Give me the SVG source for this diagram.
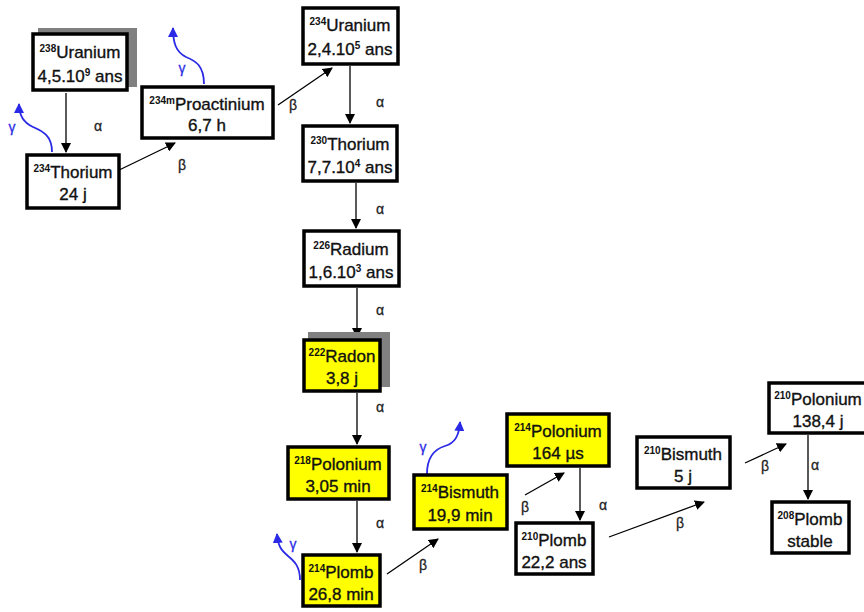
<svg xmlns="http://www.w3.org/2000/svg" width="864" height="612" viewBox="0 0 864 612">
<defs>
<marker id="ah" viewBox="0 0 10 10" refX="9" refY="5" markerWidth="10" markerHeight="10" markerUnits="userSpaceOnUse" orient="auto"><path d="M0,0 L10,5 L0,10 z" fill="#000"/></marker>
<marker id="ahb" viewBox="0 0 10 10" refX="9" refY="5" markerWidth="10" markerHeight="10" markerUnits="userSpaceOnUse" orient="auto"><path d="M0,0 L10,5 L0,10 z" fill="#2a2ae6"/></marker>
<style>
.box{fill:#fff;stroke:#000;stroke-width:3.5}
.y{fill:#ffff00}
.sh{fill:#808080}
.t{font-family:"Liberation Sans",Arial,sans-serif;font-size:17px;fill:#111;stroke:#111;stroke-width:0.35;text-anchor:middle}
.s{font-size:10px;font-weight:bold;stroke-width:0}
.c{stroke:#000;stroke-width:1.3;fill:none;marker-end:url(#ah)}
.g{stroke:#2a2ae6;stroke-width:1.8;fill:none;marker-end:url(#ahb)}
.l{font-family:"Liberation Sans",Arial,sans-serif;font-size:14px;fill:#222;stroke:#222;stroke-width:0.3;text-anchor:middle}
.lg{font-family:"Liberation Sans",Arial,sans-serif;font-size:14px;fill:#2a2ae6;stroke:#2a2ae6;stroke-width:0.3;text-anchor:middle}
</style>
</defs>
<rect width="864" height="612" fill="#fff"/>

<g id="connectors">
<line class="c" x1="66" y1="93" x2="66" y2="152"/>
<line class="c" x1="113" y1="173" x2="175" y2="143"/>
<line class="c" x1="278" y1="105" x2="332" y2="68"/>
<line class="c" x1="350" y1="66" x2="350" y2="123"/>
<line class="c" x1="356" y1="183" x2="356" y2="228"/>
<line class="c" x1="357" y1="288" x2="357" y2="337"/>
<line class="c" x1="357" y1="393" x2="357" y2="444"/>
<line class="c" x1="357" y1="501" x2="357" y2="552"/>
<line class="c" x1="387" y1="574" x2="438" y2="539"/>
<line class="c" x1="525" y1="495" x2="564" y2="473"/>
<line class="c" x1="580" y1="468" x2="580" y2="520"/>
<line class="c" x1="609" y1="537" x2="704" y2="502"/>
<line class="c" x1="745" y1="463" x2="786" y2="444"/>
<line class="c" x1="808" y1="435" x2="808" y2="499"/>
<path class="g" d="M52,152 C52,135 42,131 33,127 C22,122 19,114 19,104"/>
<path class="g" d="M204,84 C204,66 196,61 186,57 C176,52 173,43 173,28"/>
<path class="g" d="M300,580 C300,566 294,561 288,556 C281,550 278,546 277,534"/>
<path class="g" d="M427,474 C427,456 435,449 445,446 C455,443 459,436 460,422"/>
<text class="l" x="98" y="131">α</text>
<text class="l" x="182" y="170">β</text>
<text class="l" x="293" y="110">β</text>
<text class="l" x="380" y="107">α</text>
<text class="l" x="380" y="214">α</text>
<text class="l" x="380" y="315">α</text>
<text class="l" x="380" y="412">α</text>
<text class="l" x="380" y="528">α</text>
<text class="l" x="423" y="570">β</text>
<text class="l" x="525" y="512">β</text>
<text class="l" x="603" y="510">α</text>
<text class="l" x="680" y="528">β</text>
<text class="l" x="765" y="471">β</text>
<text class="l" x="815" y="470">α</text>
<text class="lg" x="12" y="132">γ</text>
<text class="lg" x="182" y="73">γ</text>
<text class="lg" x="293" y="549">γ</text>
<text class="lg" x="423" y="452">γ</text>
</g>

<g id="u238">
<rect class="sh" x="38" y="28" width="99" height="59"/>
<rect class="box" x="33" y="34" width="94" height="56"/>
<text class="t" x="80" y="58"><tspan class="s" dy="-6">238</tspan><tspan dy="6">Uranium</tspan></text>
<text class="t" x="80" y="82">4,5.10<tspan class="s" dy="-6">9</tspan><tspan dy="6"> ans</tspan></text>
</g>
<g id="th234">
<rect class="box" x="27" y="155" width="92" height="53"/>
<text class="t" x="73" y="178"><tspan class="s" dy="-6">234</tspan><tspan dy="6">Thorium</tspan></text>
<text class="t" x="73" y="200">24 j</text>
</g>
<g id="pa234m">
<rect class="box" x="142" y="87" width="131" height="51"/>
<text class="t" x="207" y="110"><tspan class="s" dy="-6">234m</tspan><tspan dy="6">Proactinium</tspan></text>
<text class="t" x="207" y="131">6,7 h</text>
</g>
<g id="u234">
<rect class="box" x="303" y="8" width="95" height="56"/>
<text class="t" x="350" y="31"><tspan class="s" dy="-6">234</tspan><tspan dy="6">Uranium</tspan></text>
<text class="t" x="350" y="55">2,4.10<tspan class="s" dy="-6">5</tspan><tspan dy="6"> ans</tspan></text>
</g>
<g id="th230">
<rect class="box" x="303" y="126" width="94" height="55"/>
<text class="t" x="350" y="150"><tspan class="s" dy="-6">230</tspan><tspan dy="6">Thorium</tspan></text>
<text class="t" x="350" y="173">7,7.10<tspan class="s" dy="-6">4</tspan><tspan dy="6"> ans</tspan></text>
</g>
<g id="ra226">
<rect class="box" x="304" y="231" width="95" height="55"/>
<text class="t" x="351" y="255"><tspan class="s" dy="-6">226</tspan><tspan dy="6">Radium</tspan></text>
<text class="t" x="351" y="278">1,6.10<tspan class="s" dy="-6">3</tspan><tspan dy="6"> ans</tspan></text>
</g>
<g id="rn222">
<rect class="sh" x="308" y="332" width="82" height="55"/>
<rect class="box y" x="304" y="340" width="76" height="51"/>
<text class="t" x="342" y="362"><tspan class="s" dy="-6">222</tspan><tspan dy="6">Radon</tspan></text>
<text class="t" x="342" y="384">3,8 j</text>
</g>
<g id="po218">
<rect class="box y" x="288" y="447" width="101" height="52"/>
<text class="t" x="338" y="470"><tspan class="s" dy="-6">218</tspan><tspan dy="6">Polonium</tspan></text>
<text class="t" x="338" y="492">3,05 min</text>
</g>
<g id="pb214">
<rect class="box y" x="303" y="555" width="77" height="51"/>
<text class="t" x="341" y="578"><tspan class="s" dy="-6">214</tspan><tspan dy="6">Plomb</tspan></text>
<text class="t" x="341" y="600">26,8 min</text>
</g>
<g id="bi214">
<rect class="box y" x="414" y="475" width="93" height="54"/>
<text class="t" x="460" y="498"><tspan class="s" dy="-6">214</tspan><tspan dy="6">Bismuth</tspan></text>
<text class="t" x="460" y="521">19,9 min</text>
</g>
<g id="po214">
<rect class="box y" x="507" y="414" width="102" height="52"/>
<text class="t" x="558" y="437"><tspan class="s" dy="-6">214</tspan><tspan dy="6">Polonium</tspan></text>
<text class="t" x="558" y="459">164 µs</text>
</g>
<g id="pb210">
<rect class="box" x="516" y="523" width="77" height="51"/>
<text class="t" x="554" y="546"><tspan class="s" dy="-6">210</tspan><tspan dy="6">Plomb</tspan></text>
<text class="t" x="554" y="568">22,2 ans</text>
</g>
<g id="bi210">
<rect class="box" x="637" y="437" width="93" height="51"/>
<text class="t" x="683" y="460"><tspan class="s" dy="-6">210</tspan><tspan dy="6">Bismuth</tspan></text>
<text class="t" x="683" y="482">5 j</text>
</g>
<g id="po210">
<rect class="box" x="769" y="383" width="100" height="50"/>
<text class="t" x="818" y="405"><tspan class="s" dy="-6">210</tspan><tspan dy="6">Polonium</tspan></text>
<text class="t" x="818" y="427">138,4 j</text>
</g>
<g id="pb208">
<rect class="box" x="772" y="502" width="77" height="51"/>
<text class="t" x="810" y="525"><tspan class="s" dy="-6">208</tspan><tspan dy="6">Plomb</tspan></text>
<text class="t" x="810" y="547">stable</text>
</g>
</svg>
